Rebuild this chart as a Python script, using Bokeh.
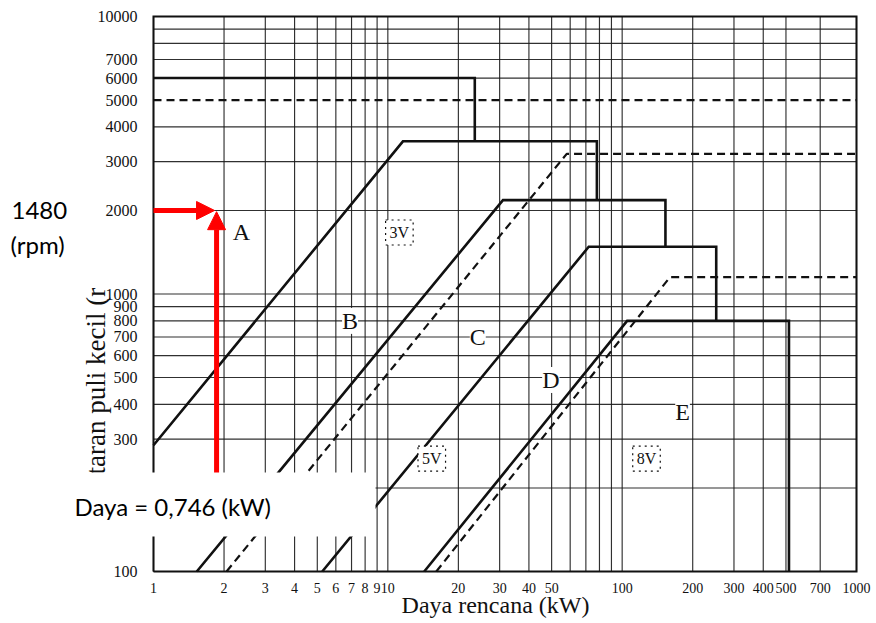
import math
from bokeh.plotting import figure
from bokeh.models import (Range1d, FixedTicker, PrintfTickFormatter, Label, Arrow,
                          NormalHead, BoxAnnotation, LogAxis)
from bokeh.embed import file_html
from bokeh.resources import INLINE

# ---------------- data ----------------
belt_types = ["A", "B", "C", "D", "E"]
type_max_rpm = [6000, 3550, 2180, 1480, 800]      # upper speed limit of each type
type_max_kw = [23.5, 78, 153, 252, 515]           # right edge of each type's field
# lower-left boundary of types B..E (constant-torque line)
diag_start_kw = [1.0, 1.53, 5.25, 14.3]
diag_start_rpm = [285, 100, 100, 100]
diag_end_kw = [11.6, 31, 72, 105]

narrow_types = ["3V", "5V", "8V"]
narrow_max_rpm = [5000, 3200, 1150]
narrow_diag_start_kw = [2.05, 16.1]
narrow_diag_end_kw = [58, 160]

type_label_kw = [2.37, 6.9, 24.2, 49.6, 181]
type_label_rpm = [1666, 800, 700, 490, 377]
narrow_label_kw = [11.2, 15.4, 127]
narrow_label_rpm = [1666, 255, 255]

kw_limits = [1, 1000]
rpm_limits = [100, 10000]
x_ticks = [1, 2, 3, 4, 5, 6, 7, 8, 9, 10, 20, 30, 40, 50, 100, 200, 300, 400, 500, 700, 1000]
x_grid = [1, 2, 3, 4, 5, 6, 7, 8, 9, 10, 20, 30, 40, 50, 60, 70, 80, 90, 100,
          200, 300, 400, 500, 700, 1000]
y_ticks = [100, 300, 400, 500, 600, 700, 800, 900, 1000, 2000, 3000, 4000, 5000, 6000, 7000, 10000]
y_grid = [100, 200, 300, 400, 500, 600, 700, 800, 900, 1000, 2000, 3000, 4000,
          6000, 7000, 8000, 9000, 10000]

# example annotation (red arrows)
example_rpm = 2000
example_kw = 1.84
example_text = "Daya = 0,746 (kW)"
speed_text = ["1480", "(rpm)"]

# ---------------- layout (pixels) ----------------
W, H = 874, 620
FRAME_L, FRAME_R, FRAME_T, FRAME_B = 153, 856, 16, 571
dec_x = (FRAME_R - FRAME_L) / 3.0
dec_y = (FRAME_B - FRAME_T) / 2.0
x_range = Range1d(10 ** (0 - FRAME_L / dec_x), 10 ** (3 + (W - FRAME_R) / dec_x))
y_range = Range1d(10 ** (2 - (H - FRAME_B) / dec_y), 10 ** (4 + FRAME_T / dec_y))


def px_x(px):
    return 10 ** ((px - FRAME_L) / dec_x)


def px_y(py):
    return 10 ** (2 + (FRAME_B - py) / dec_y)


SERIF = "Liberation Serif"
INK = "#111111"

p = figure(width=W, height=H, x_axis_type="log", y_axis_type="log",
           x_axis_location=None, y_axis_location=None,
           x_range=x_range, y_range=y_range,
           output_backend="svg", toolbar_location=None,
           min_border_left=0, min_border_right=0, min_border_top=0, min_border_bottom=0)
p.background_fill_color = "white"
p.border_fill_color = "white"
p.outline_line_color = None
p.grid.visible = False

# axes drawn at the chart edges inside the canvas
xax = LogAxis(ticker=FixedTicker(ticks=x_ticks), formatter=PrintfTickFormatter(format="%d"),
              fixed_location=rpm_limits[0], bounds=(kw_limits[0], kw_limits[1]))
yax = LogAxis(ticker=FixedTicker(ticks=y_ticks), formatter=PrintfTickFormatter(format="%d"),
              fixed_location=kw_limits[0], bounds=(rpm_limits[0], rpm_limits[1]))
for ax in (xax, yax):
    ax.axis_line_color = None
    ax.major_tick_line_color = None
    ax.minor_tick_line_color = None
    ax.major_label_text_font = SERIF
    ax.major_label_text_color = INK
xax.major_label_text_font_size = "14px"
yax.major_label_text_font_size = "16px"
xax.major_label_standoff = 5
yax.major_label_standoff = 10
p.add_layout(xax, "below")
p.add_layout(yax, "left")

# grid lines
p.segment(x0=x_grid, y0=[rpm_limits[0]] * len(x_grid), x1=x_grid, y1=[rpm_limits[1]] * len(x_grid),
          line_color="#1a1a1a", line_width=1.15, line_alpha=0.9)
p.segment(x0=[kw_limits[0]] * len(y_grid), y0=y_grid, x1=[kw_limits[1]] * len(y_grid), y1=y_grid,
          line_color="#1a1a1a", line_width=1.15, line_alpha=0.9)
# chart border
p.line(x=[kw_limits[0], kw_limits[1], kw_limits[1], kw_limits[0], kw_limits[0]],
       y=[rpm_limits[0], rpm_limits[0], rpm_limits[1], rpm_limits[1], rpm_limits[0]],
       line_color=INK, line_width=2, line_join="miter")

# ---------------- boundary lines ----------------
solid_xs = [[1, type_max_kw[0], type_max_kw[0]]]
solid_ys = [[type_max_rpm[0], type_max_rpm[0], type_max_rpm[1]]]
for i in range(1, len(belt_types)):
    nxt = type_max_rpm[i + 1] if i + 1 < len(belt_types) else rpm_limits[0]
    solid_xs.append([diag_start_kw[i - 1], diag_end_kw[i - 1], type_max_kw[i], type_max_kw[i]])
    solid_ys.append([diag_start_rpm[i - 1], type_max_rpm[i], type_max_rpm[i], nxt])
p.multi_line(solid_xs, solid_ys, line_color=INK, line_width=2.6, line_join="miter")

dash_xs = [[kw_limits[0], kw_limits[1]]]
dash_ys = [[narrow_max_rpm[0], narrow_max_rpm[0]]]
for i in range(1, len(narrow_types)):
    dash_xs.append([narrow_diag_start_kw[i - 1], narrow_diag_end_kw[i - 1], kw_limits[1]])
    dash_ys.append([rpm_limits[0], narrow_max_rpm[i], narrow_max_rpm[i]])
p.multi_line(dash_xs, dash_ys, line_color=INK, line_width=2.2, line_dash="8 5")

# ---------------- labels ----------------
for t, x, y in zip(belt_types, type_label_kw, type_label_rpm):
    p.add_layout(Label(x=x, y=y, text=t, text_font=SERIF, text_font_size="24px",
                       text_align="center", text_baseline="middle", text_color=INK,
                       background_fill_color="white"))
for t, x, y in zip(narrow_types, narrow_label_kw, narrow_label_rpm):
    p.add_layout(Label(x=x, y=y, text=t, text_font=SERIF, text_font_size="16px",
                       text_align="center", text_baseline="middle", text_color=INK,
                       background_fill_color="white", border_line_color=INK,
                       border_line_dash="dotted", border_line_width=1.2, padding=4))

# axis titles
p.add_layout(Label(x=px_x(495), y=px_y(604), text="Daya rencana (kW)", text_font=SERIF,
                   text_font_size="24px", text_align="center", text_baseline="middle",
                   text_color=INK))
p.add_layout(Label(x=px_x(95), y=px_y(474), text="taran puli kecil (r", text_font=SERIF,
                   text_font_size="27px", text_align="left", text_baseline="middle",
                   angle=math.pi / 2, text_color=INK))

# red example arrows
head = dict(size=18, fill_color="#ff0000", line_color="#ff0000")
p.add_layout(Arrow(x_start=kw_limits[0], y_start=example_rpm, x_end=example_kw * 0.99,
                   y_end=example_rpm, line_color="#ff0000", line_width=5, end=NormalHead(**head)))
p.add_layout(Arrow(x_start=example_kw * 1.01, y_start=px_y(500), x_end=example_kw * 1.01,
                   y_end=example_rpm * 0.99, line_color="#ff0000", line_width=5,
                   end=NormalHead(**head)))

# white text box covering the lower-left corner
p.add_layout(BoxAnnotation(left=px_x(40), right=px_x(375), bottom=px_y(536), top=px_y(472),
                           fill_color="white", fill_alpha=1.0, line_color=None, level="overlay"))
p.add_layout(Label(x=px_x(74), y=px_y(506), text=example_text, text_font="Lato",
                   text_font_size="24px", text_align="left", text_baseline="middle",
                   text_color="black", level="overlay"))
p.add_layout(Label(x=px_x(11), y=px_y(210), text=speed_text[0], text_font="Lato",
                   text_font_size="24px", text_align="left", text_baseline="middle",
                   text_color="black"))
p.add_layout(Label(x=px_x(10), y=px_y(244), text=speed_text[1], text_font="Lato",
                   text_font_size="24px", text_align="left", text_baseline="middle",
                   text_color="black"))

open("out.html", "w").write(file_html(p, INLINE))
